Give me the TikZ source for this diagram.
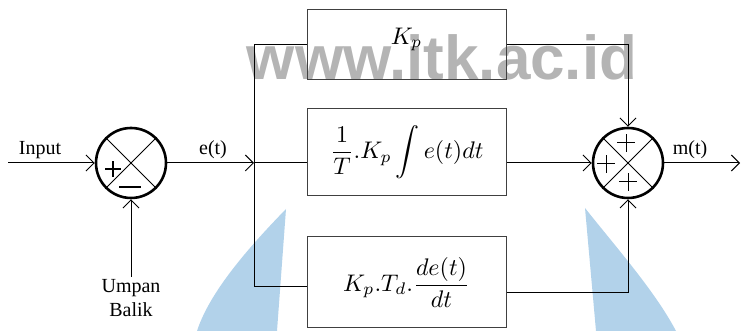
\documentclass[tikz,border=0pt]{standalone}
\usepackage{graphicx}
\usepackage{fontspec}
\setmainfont{Liberation Serif}
\newfontfamily\wmfont{Liberation Sans}
\usetikzlibrary{arrows.meta, positioning, calc}
\definecolor{wmgray}{RGB}{180,180,180}
\definecolor{wmblue}{RGB}{178,210,234}

\newcommand{\blockmath}[1]{\scalebox{2.4}{$\displaystyle #1$}}

\tikzset{
  sumnode/.style={circle, draw, line width=2.6pt, minimum size=70pt, inner sep=0pt},
  blockbox/.style={draw=black!75, line width=1pt, minimum width=199pt, inner sep=0pt},
  sig/.style={line width=1pt, -{Straight Barb[length=8pt, width=16pt, line width=1pt]}},
  wire/.style={line width=1pt},
  lbl/.style={font=\fontsize{20}{24}\selectfont, inner sep=0pt},
}

\begin{document}
\begin{tikzpicture}[x=1pt, y=1pt]
  \useasboundingbox (0,0) rectangle (742,331);

  % watermark
  \fill[wmblue] (286,122) .. controls (250,85) and (210,40) .. (197,0) -- (277,0) -- cycle;
  \fill[wmblue] (585,123) -- (596,0) -- (676,0) .. controls (655,40) and (615,85) .. (585,123) -- cycle;
  \node[font=\wmfont\bfseries\fontsize{62}{62}\selectfont, text=wmgray, anchor=base, inner sep=0pt]
    (wm) at (442,251) {www.itk.ac.id};

  % summing points
  \node[sumnode] (sumin) at (131,168) {};
  \node[sumnode] (sumout) at (628,168) {};
  \foreach \s in {sumin, sumout} {
    \draw[wire] (\s.45) -- (\s.225);
    \draw[wire] (\s.135) -- (\s.315);
  }
  \draw[line width=2.4pt] ([shift={(-26,-6)}]sumin.center) -- ++(16,0);
  \draw[line width=2.4pt] ([shift={(-18,-14)}]sumin.center) -- ++(0,16);
  \draw[line width=1.2pt] ([shift={(-12,-24)}]sumin.center) -- ++(22,0);
  \foreach \dx/\dy in {-2/20, -22/-1, 0/-19} {
    \draw[wire] ([shift={(\dx-9,\dy)}]sumout.center) -- ++(18,0);
    \draw[wire] ([shift={(\dx,\dy-9)}]sumout.center) -- ++(0,18);
  }

  % blocks
  \node[blockbox, minimum height=70pt, text depth=18pt] (kp) at (406.5,286) {\blockmath{K_p}};
  \node[blockbox, minimum height=87pt] (ki) at (407,178.5)
    {\blockmath{\frac{1}{T}.K_p\int e(t)dt}};
  \node[blockbox, minimum height=91pt] (kd) at (406.5,48.5)
    {\blockmath{K_p.T_d.\frac{de(t)}{dt}}};

  % input and feedback
  \coordinate (in) at (8,168);
  \coordinate (fb) at (131,54);
  \draw[sig] (in) -- (sumin);
  \node[lbl] (inlbl) at (40,181) {Input};
  \draw[sig] (fb) -- (sumin);
  \node[lbl, align=center, anchor=north] (fblbl) at (131,52) {Umpan\\Balik};

  % branch point
  \coordinate (split) at (254,168);
  \coordinate (splittop) at (254,286);
  \coordinate (splitbot) at (254,44);
  \draw[sig] (sumin) -- (split);
  \node[lbl] (elbl) at (213,181) {e(t)};
  \draw[wire] (splittop) -- (splitbot);
  \draw[wire] (splittop) -- (kp.west);
  \draw[wire] (split) -- (split -| ki.west);
  \draw[wire] (splitbot) -- (splitbot -| kd.west);

  % to the output summing point
  \coordinate (kdout) at (kd.east |- 0,38);
  \draw[sig] (kp.east) -- (kp.east -| sumout) -- (sumout.north);
  \draw[sig] (ki.east |- sumout) -- (sumout.west);
  \draw[sig] (kdout) -- (kdout -| sumout) -- (sumout.south);

  % output
  \coordinate (out) at (740,168);
  \draw[sig] (sumout) -- (out);
  \node[lbl] (mlbl) at (690,181) {m(t)};
\end{tikzpicture}
\end{document}
